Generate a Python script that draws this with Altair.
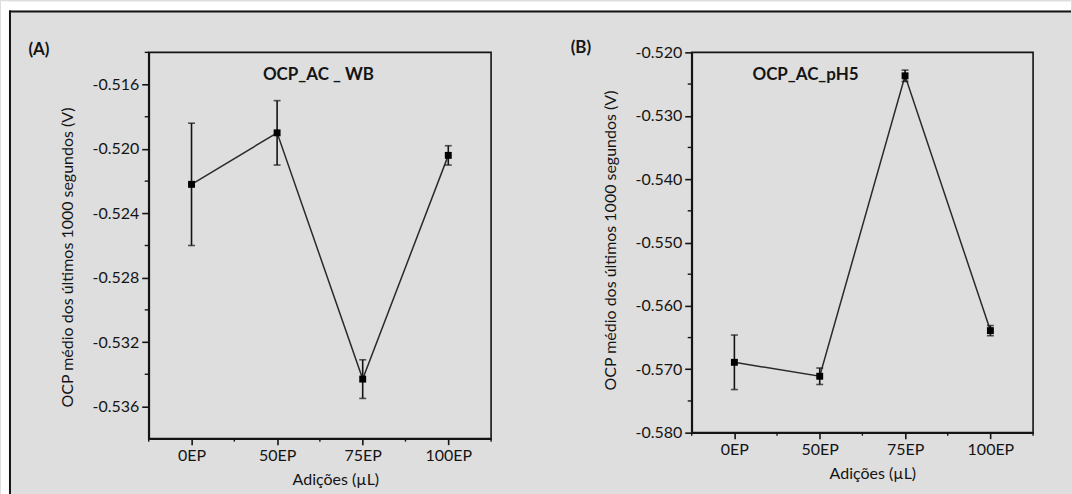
import json
import altair as alt
import pandas as pd

# ---- data ----
categories = ["0EP", "50EP", "75EP", "100EP"]

wb_mean = [-0.5222, -0.5190, -0.5343, -0.5204]
wb_err = [0.0038, 0.0020, 0.0012, 0.0006]

ph5_mean = [-0.5689, -0.5711, -0.5237, -0.5639]
ph5_err = [0.0043, 0.0013, 0.0009, 0.0008]

wb_ticks = [-0.536, -0.532, -0.528, -0.524, -0.520, -0.516]
wb_minor = [-0.534, -0.530, -0.526, -0.522, -0.518, -0.514]
ph5_ticks = [-0.580, -0.570, -0.560, -0.550, -0.540, -0.530, -0.520]
ph5_minor = [-0.575, -0.565, -0.555, -0.545, -0.535, -0.525]
x_minor = [-0.5, 0.5, 1.5, 2.5, 3.5]

# ---- style ----
FONT = "Lato"
INK = "#141414"
BG = "#dedede"
Y_TITLE = "OCP médio dos últimos 1000 segundos (V)"
X_TITLE = "Adições (µL)"

# figure frame (pixels, relative to the left panel's plot origin)
ORIGIN_X, ORIGIN_Y = 148, 51
PAGE_W, PAGE_H = 1072, 494
MARGIN_X, MARGIN_Y = 8, 9
BORDER = 2

one_row = pd.DataFrame({"k": [0]})


def value_rect(x0, x1, y0, y1, color):
    return alt.Chart(one_row).mark_rect(color=color, strokeWidth=0).encode(
        x=alt.value(x0), x2=alt.value(x1), y=alt.value(y0), y2=alt.value(y1)
    )


def frame_layers():
    left = -ORIGIN_X
    top = -ORIGIN_Y
    right = PAGE_W - ORIGIN_X
    bottom = PAGE_H - ORIGIN_Y
    return [
        value_rect(left, right, top, top + MARGIN_Y, "white"),
        value_rect(left, left + MARGIN_X, top, bottom, "white"),
        value_rect(left + MARGIN_X, right, top + MARGIN_Y, top + MARGIN_Y + BORDER, INK),
        value_rect(left + MARGIN_X, left + MARGIN_X + BORDER, top + MARGIN_Y, bottom, INK),
    ]


def label_text(text, x, y, size):
    return alt.Chart(one_row).mark_text(
        text=text, font=FONT, fontSize=size, fontWeight="bold", color=INK,
        align="center", baseline="middle",
    ).encode(x=alt.value(x), y=alt.value(y))


def panel(letter, letter_xy, title, title_xy, mean, err, ydomain, yticks, yminor,
          width, height, ytitle_y, xtitle_x, with_frame=False):
    df = pd.DataFrame({
        "pos": list(range(len(categories))),
        "cat": categories,
        "mean": mean,
        "lo": [m - e for m, e in zip(mean, err)],
        "hi": [m + e for m, e in zip(mean, err)],
    })
    xscale = alt.Scale(domain=[-0.5, len(categories) - 0.5], nice=False, zero=False)
    yscale = alt.Scale(domain=ydomain, nice=False, zero=False)

    x_axis = alt.Axis(
        values=list(range(len(categories))),
        labelExpr=json.dumps(categories) + "[datum.value]",
        title=X_TITLE, titleX=xtitle_x, titleY=41, titleBaseline="middle",
        titleAlign="center", tickSize=6, labelPadding=3,
    )
    y_axis = alt.Axis(
        values=yticks, format=".3f",
        labelExpr="replace(datum.label, '\u2212', '-')",
        title=Y_TITLE, titleX=-81, titleY=ytitle_y, titleAngle=-90,
        titleBaseline="middle", titleAlign="center", tickSize=7, labelPadding=3,
    )

    def X(field):
        return alt.X(field, scale=xscale, axis=x_axis)

    def Y(field):
        return alt.Y(field, scale=yscale, axis=y_axis)

    base = alt.Chart(df)
    line = base.mark_line(color="#2a2a2a", strokeWidth=1.5).encode(
        x=X("pos:Q"), y=Y("mean:Q"),
    )
    bars = base.mark_rule(color=INK, strokeWidth=1.6).encode(
        x=X("pos:Q"), y=Y("lo:Q"), y2="hi:Q",
    )
    cap_lo = base.mark_tick(orient="horizontal", size=7, thickness=1.6, color=INK).encode(
        x=X("pos:Q"), y=Y("lo:Q"),
    )
    cap_hi = base.mark_tick(orient="horizontal", size=7, thickness=1.6, color=INK).encode(
        x=X("pos:Q"), y=Y("hi:Q"),
    )
    points = base.mark_square(size=48, color="black", opacity=1).encode(
        x=X("pos:Q"), y=Y("mean:Q"),
    )
    y_minor = alt.Chart(pd.DataFrame({"v": yminor})).mark_rule(
        color=INK, strokeWidth=1.4
    ).encode(y=Y("v:Q"), x=alt.value(0), x2=alt.value(-4))
    x_minor_rules = alt.Chart(pd.DataFrame({"v": x_minor})).mark_rule(
        color=INK, strokeWidth=1.4
    ).encode(x=X("v:Q"), y=alt.value(height), y2=alt.value(height + 3))

    layers = []
    if with_frame:
        layers += frame_layers()
    layers += [
        line, bars, cap_lo, cap_hi, points, y_minor, x_minor_rules,
        label_text(letter, letter_xy[0], letter_xy[1], 17),
        label_text(title, title_xy[0], title_xy[1], 17),
    ]
    return alt.layer(*layers).properties(width=width, height=height)


panel_a = panel(
    "(A)", (-110, -2), "OCP_AC _ WB", (170, 23),
    wb_mean, wb_err, [-0.538, -0.514], wb_ticks, wb_minor,
    343, 387, 205, 187, with_frame=True,
)
panel_b = panel(
    "(B)", (-111, -4), "OCP_AC_pH5", (114, 23),
    ph5_mean, ph5_err, [-0.580, -0.520], ph5_ticks, ph5_minor,
    342, 381, 188, 181,
)

chart = alt.hconcat(panel_a, panel_b, spacing=201, bounds="flush").properties(
    background=BG, padding=0,
).configure_view(
    stroke=INK, strokeWidth=1.6, fill=None,
).configure_axis(
    domainColor=INK, domainWidth=1.8, tickColor=INK, tickWidth=1.6,
    labelFont=FONT, labelFontSize=16, labelColor=INK,
    titleFont=FONT, titleFontSize=16, titleColor=INK, titleFontWeight="normal",
    grid=False,
)

chart.save("out.html", embed_options={"renderer": "svg", "actions": False})
